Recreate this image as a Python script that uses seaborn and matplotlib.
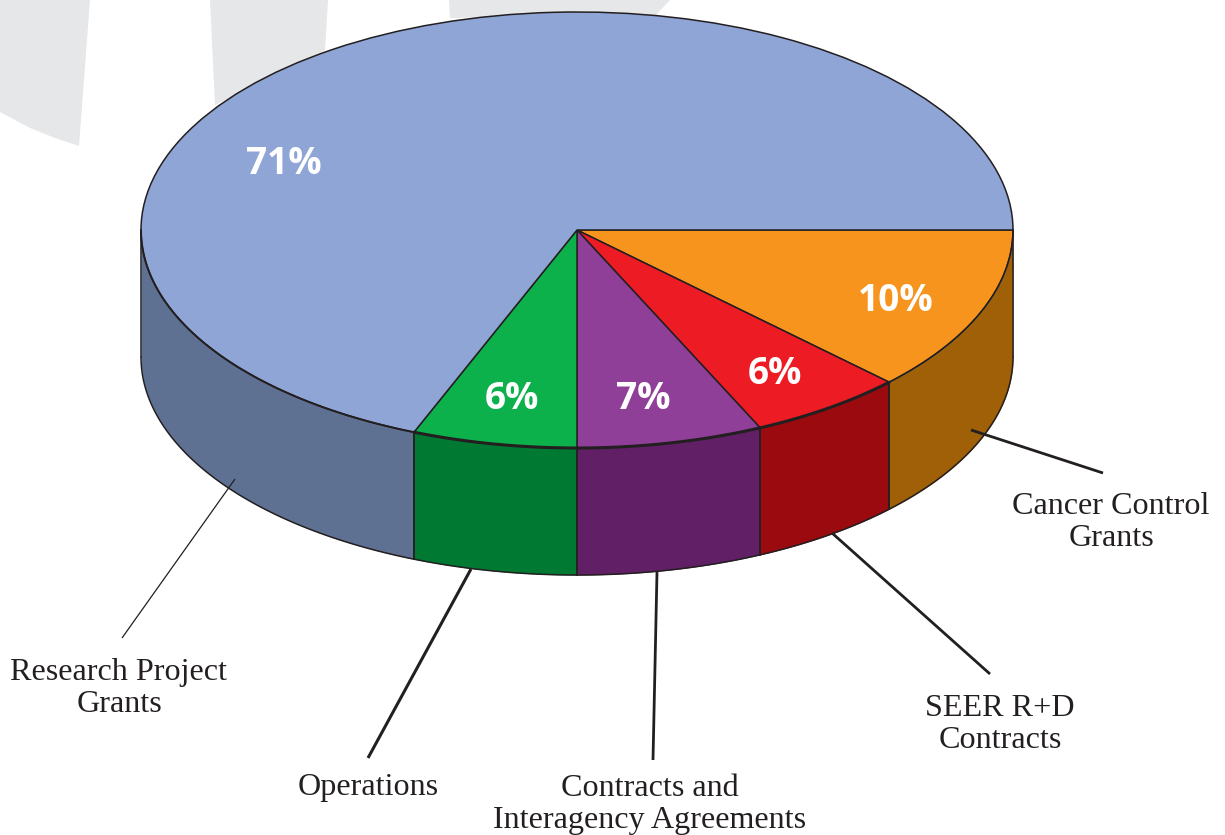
import numpy as np
import matplotlib
matplotlib.use("Agg")
import matplotlib.pyplot as plt
import seaborn as sns

# slices clockwise from the 3 o'clock position
categories = ["Cancer Control\nGrants", "SEER R+D\nContracts", "Contracts and\nInteragency Agreements",
              "Operations", "Research Project\nGrants"]
percent_labels = [10, 6, 7, 6, 71]
# the drawn slices do not follow the printed percentages exactly, these are measured off the picture
drawn_shares = [12.3, 5.8, 6.9, 6.1, 68.9]
top_colors = ["#F7941D", "#ED1C24", "#903F98", "#0DB14B", "#8FA5D5"]
wall_colors = ["#A06008", "#9A0A0E", "#612065", "#007A33", "#5F7193"]

# picture geometry in pixels
W, H = 1225, 835
CX, CY, RX, RY = 577, 230, 436, 218
DEPTH = 127
EDGE = "#231F20"


def px(x, y):
    # pixel position to data position (pie radius is 1 in both directions)
    return (np.asarray(x, dtype=float) - CX) / RX, (CY - np.asarray(y, dtype=float)) / RY


sns.set_theme(style="white")
fig = plt.figure(figsize=(W / 100, H / 100), dpi=100)
ax = fig.add_axes([0, 0, 1, 1])

# faint grey shapes behind the pie
arc_x = np.array([79, 55, 30, 0])
arc_y = np.array([146, 138, 128, 112])
ax.fill(*px(np.r_[0, 90, arc_x], np.r_[0, 0, arc_y]), color="#E6E7E8", lw=0, zorder=0)
ax.fill(*px([210, 328, 325, 215, 215], [0, 0, 50, 105, 105]), color="#E6E7E8", lw=0, zorder=0)
ax.fill(*px([449, 670, 656, 450], [0, 0, 15, 18]), color="#E6E7E8", lw=0, zorder=0)

# top face
wedges, _ = ax.pie(drawn_shares, colors=sns.color_palette(top_colors), startangle=0, counterclock=False,
                   radius=1, center=(0, 0), normalize=True,
                   wedgeprops=dict(edgecolor=EDGE, linewidth=1.1, zorder=3))
ax.set_aspect("auto")
ax.set_xlim(-CX / RX, (W - CX) / RX)
ax.set_ylim((CY - H) / RY, CY / RY)
ax.axis("off")

# side walls, only the front half of the rim is visible
d = DEPTH / RY
edges = np.r_[0, np.cumsum(drawn_shares)] / np.sum(drawn_shares) * 180 * 2
rim_widths = [1.1, 2.2, 2.2, 2.2, 1.4]
for start, end, color, rim in zip(edges[:-1], edges[1:], wall_colors, rim_widths):
    end = min(end, 180)
    if start >= end:
        continue
    t = np.radians(np.linspace(start, end, 80))
    x = np.cos(t)
    y = -np.sin(t)
    ax.fill_between(x, y, y - d, color=color, lw=0, zorder=1)
    ax.plot(x, y - d, color=EDGE, lw=1.1, zorder=2)
    ax.plot(x, y, color=EDGE, lw=rim, zorder=3.5)
    ax.plot([x[0], x[0]], [y[0], y[0] - d], color=EDGE, lw=1.1, zorder=2)
    ax.plot([x[-1], x[-1]], [y[-1], y[-1] - d], color=EDGE, lw=1.1, zorder=2)

# percent labels
pct_pos = [(896, 301), (775, 374), (643, 399), (512, 399), (284, 164)]
for val, (x, y) in zip(percent_labels, pct_pos):
    tx, ty = px(x, y)
    ax.text(tx, ty, f"{val}%", color="white", fontsize=26.7, fontweight="bold", family="Open Sans",
            ha="center", va="center", zorder=5)

# leader lines and category names
leaders = [((971, 430), (1103, 473), 2), ((832, 533), (990, 674), 2), ((657, 572), (653, 760), 2),
           ((471, 569), (368, 758), 2.2), ((235, 479), (122, 638), 0.9)]
name_pos = [(1111, 522.5), (1000, 724.5), (650, 804.5), (368, 787), (119, 688.5)]
for (a, b, lw), name, (x, y) in zip(leaders, categories, name_pos):
    lx, ly = px([a[0], b[0]], [a[1], b[1]])
    ax.plot(lx, ly, color=EDGE, lw=lw, zorder=4, solid_capstyle="butt")
    tx, ty = px(x, y)
    ax.text(tx, ty, name, color=EDGE, fontsize=23.1, family="Liberation Serif", ha="center", va="center",
            linespacing=1.1, zorder=5)

fig.savefig("out.png", dpi=100)
plt.close(fig)
